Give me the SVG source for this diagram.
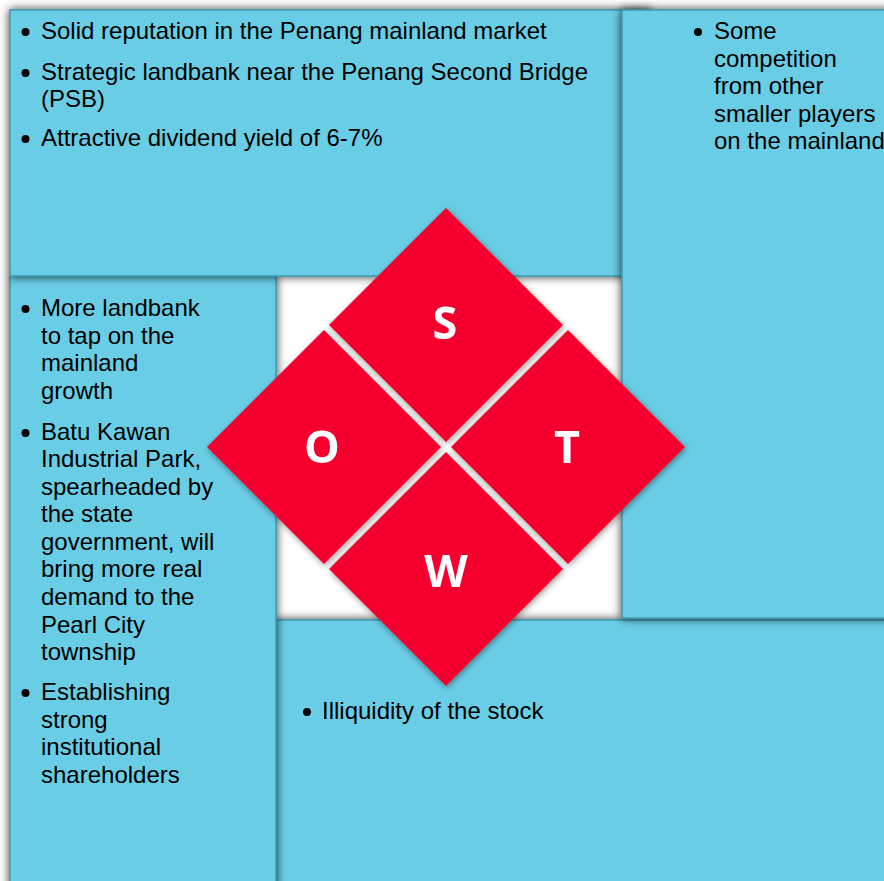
<svg xmlns="http://www.w3.org/2000/svg" width="884" height="881" viewBox="0 0 884 881">
  <defs>
    <filter id="panelShadow" x="-10%" y="-10%" width="120%" height="120%">
      <feGaussianBlur in="SourceAlpha" stdDeviation="5"/>
      <feComponentTransfer><feFuncA type="linear" slope="0.8"/></feComponentTransfer>
      <feMerge><feMergeNode/><feMergeNode in="SourceGraphic"/></feMerge>
    </filter>
    <filter id="tileShadow" x="-10%" y="-10%" width="120%" height="120%">
      <feGaussianBlur in="SourceAlpha" stdDeviation="3"/>
      <feOffset dx="1" dy="2"/>
      <feComponentTransfer><feFuncA type="linear" slope="0.4"/></feComponentTransfer>
      <feMerge><feMergeNode/><feMergeNode in="SourceGraphic"/></feMerge>
    </filter>
  </defs>
  <style>
    .panel { fill: #69cde5; stroke: #3898b0; stroke-width: 1.5; filter: url(#panelShadow); }
    .body { font-family: "Liberation Sans", Arial, sans-serif; font-size: 24px; fill: #000; }
    .dot { fill: #000; }
    .tile { fill: #f5002d; }
    .letter { font-family: "Open Sans", "Liberation Sans", sans-serif; font-weight: bold; font-size: 45px; fill: #fff; text-anchor: middle; dominant-baseline: central; }
  </style>

  <rect width="884" height="881" fill="#fff"/>

  <!-- centre backdrop -->
  <rect x="270" y="270" width="360" height="360" fill="#fff"/>

  <!-- Weaknesses panel -->
  <g id="weaknesses">
    <rect class="panel" x="276" y="620" width="640" height="300"/>
    <circle class="dot" cx="307" cy="712" r="4"/>
    <text class="body" x="322" y="719">Illiquidity of the stock</text>
  </g>

  <!-- Opportunities panel -->
  <g id="opportunities">
    <rect class="panel" x="10" y="276" width="266" height="640"/>
    <circle class="dot" cx="25.5" cy="309" r="4"/>
    <circle class="dot" cx="25.5" cy="433" r="4"/>
    <circle class="dot" cx="25.5" cy="693" r="4"/>
    <text class="body">
      <tspan x="41" y="316">More landbank</tspan>
      <tspan x="41" y="344">to tap on the</tspan>
      <tspan x="41" y="371">mainland</tspan>
      <tspan x="41" y="399">growth</tspan>
      <tspan x="41" y="440">Batu Kawan</tspan>
      <tspan x="41" y="467">Industrial Park,</tspan>
      <tspan x="41" y="495">spearheaded by</tspan>
      <tspan x="41" y="522">the state</tspan>
      <tspan x="41" y="550">government, will</tspan>
      <tspan x="41" y="577">bring more real</tspan>
      <tspan x="41" y="605">demand to the</tspan>
      <tspan x="41" y="633">Pearl City</tspan>
      <tspan x="41" y="660">township</tspan>
      <tspan x="41" y="700">Establishing</tspan>
      <tspan x="41" y="728">strong</tspan>
      <tspan x="41" y="755">institutional</tspan>
      <tspan x="41" y="783">shareholders</tspan>
    </text>
  </g>

  <!-- Strengths panel -->
  <g id="strengths">
    <rect class="panel" x="10" y="10" width="640" height="266"/>
    <circle class="dot" cx="25.5" cy="32" r="4"/>
    <circle class="dot" cx="25.5" cy="73" r="4"/>
    <circle class="dot" cx="25.5" cy="139" r="4"/>
    <text class="body">
      <tspan x="41" y="39">Solid reputation in the Penang mainland market</tspan>
      <tspan x="41" y="80">Strategic landbank near the Penang Second Bridge</tspan>
      <tspan x="41" y="107">(PSB)</tspan>
      <tspan x="41" y="146">Attractive dividend yield of 6-7%</tspan>
    </text>
  </g>

  <!-- Threats panel -->
  <g id="threats">
    <rect class="panel" x="622" y="10" width="300" height="608"/>
    <circle class="dot" cx="698" cy="32" r="4"/>
    <text class="body">
      <tspan x="714" y="39">Some</tspan>
      <tspan x="714" y="67">competition</tspan>
      <tspan x="714" y="94">from other</tspan>
      <tspan x="714" y="122">smaller players</tspan>
      <tspan x="714" y="149">on the mainland</tspan>
    </text>
  </g>

  <!-- SWOT diamond tiles -->
  <g id="tile-s" filter="url(#tileShadow)">
    <polygon class="tile" points="446,208 563,325 446,442 329,325"/>
    <text class="letter" x="445" y="321">S</text>
  </g>
  <g id="tile-o" filter="url(#tileShadow)">
    <polygon class="tile" points="324,330 441,447 324,564 207,447"/>
    <text class="letter" x="322" y="445">O</text>
  </g>
  <g id="tile-t" filter="url(#tileShadow)">
    <polygon class="tile" points="568,330 685,447 568,564 451,447"/>
    <text class="letter" x="567" y="445">T</text>
  </g>
  <g id="tile-w" filter="url(#tileShadow)">
    <polygon class="tile" points="446,452 563,569 446,686 329,569"/>
    <text class="letter" x="446" y="569">W</text>
  </g>
</svg>
